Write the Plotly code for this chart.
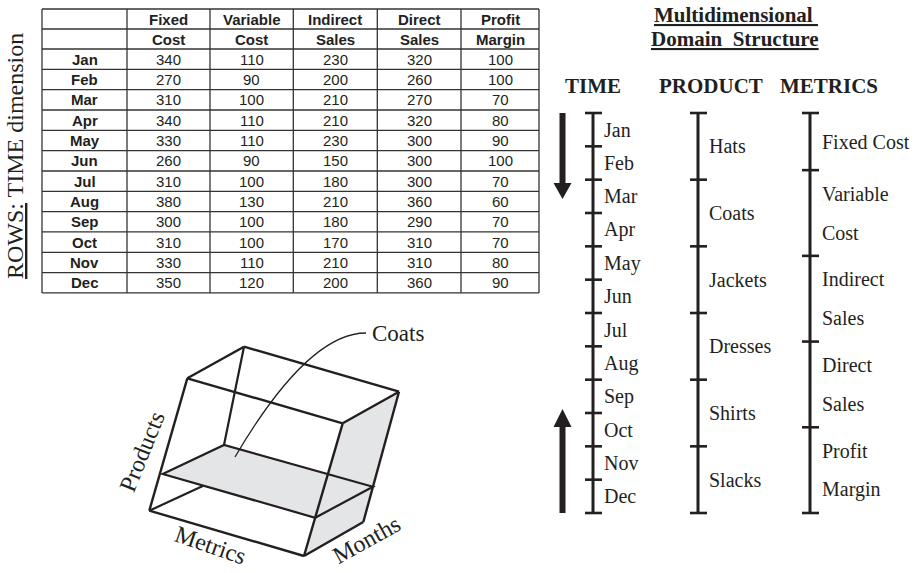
import plotly.graph_objects as go

# ---- data ----
months = ["Jan", "Feb", "Mar", "Apr", "May", "Jun",
          "Jul", "Aug", "Sep", "Oct", "Nov", "Dec"]
metrics = ["Fixed Cost", "Variable Cost", "Indirect Sales", "Direct Sales", "Profit Margin"]
fixed_cost = [340, 270, 310, 340, 330, 260, 310, 380, 300, 310, 330, 350]
variable_cost = [110, 90, 100, 110, 110, 90, 100, 130, 100, 100, 110, 120]
indirect_sales = [230, 200, 210, 210, 230, 150, 180, 210, 180, 170, 210, 200]
direct_sales = [320, 260, 270, 320, 300, 300, 300, 360, 290, 310, 310, 360]
profit_margin = [100, 100, 70, 80, 90, 100, 70, 60, 70, 70, 80, 90]
products = ["Hats", "Coats", "Jackets", "Dresses", "Shirts", "Slacks"]
metric_labels = [["Fixed Cost"], ["Variable", "Cost"], ["Indirect", "Sales"],
                 ["Direct", "Sales"], ["Profit", "Margin"]]
cube_axes = ["Products", "Metrics", "Months"]
highlight = "Coats"

# ---- styling ----
SERIF = "Liberation Serif"
SANS = "Liberation Sans"
INK = "#231f20"
GRAY = "#e4e5e6"
W, H = 917, 573

shapes = []
anns = []


def line(x0, y0, x1, y1, w=1.4, c=INK):
    shapes.append(dict(type="line", xref="x", yref="y", x0=x0, y0=y0, x1=x1, y1=y1,
                       line=dict(color=c, width=w)))


def path(d, fill=None, w=2.3, c=INK):
    shapes.append(dict(type="path", xref="x", yref="y", path=d,
                       fillcolor=fill if fill else "rgba(0,0,0,0)",
                       line=dict(color=c, width=w)))


def text(x, y, s, size, family=SERIF, xanchor="center", angle=0):
    anns.append(dict(x=x, y=y, xref="x", yref="y", text=s, showarrow=False,
                     xanchor=xanchor, yanchor="middle", textangle=angle,
                     font=dict(family=family, size=size, color=INK)))


# ---- table ----
columns = [fixed_cost, variable_cost, indirect_sales, direct_sales, profit_margin]
col_edges = [42, 127, 210, 293.3, 377.3, 461, 539]
head_h = 20
row_h = 20.33
top = 9
row_edges = [top, top + head_h, top + 2 * head_h] + \
    [top + 2 * head_h + (i + 1) * row_h for i in range(len(months))]
bottom = row_edges[-1]

for ye in row_edges:
    line(col_edges[0], ye, col_edges[-1], ye, w=1.3, c="#333")
for xe in col_edges:
    line(xe, top, xe, bottom, w=1.3, c="#333")

for j, m in enumerate(metrics):
    cx = (col_edges[j + 1] + col_edges[j + 2]) / 2
    first, second = m.split(" ", 1)
    text(cx, top + head_h / 2, "<b>" + first + "</b>", 15, SANS)
    text(cx, top + head_h * 1.5, "<b>" + second + "</b>", 15, SANS)

for i, mo in enumerate(months):
    cy = top + 2 * head_h + (i + 0.5) * row_h
    text((col_edges[0] + col_edges[1]) / 2, cy, "<b>" + mo + "</b>", 15, SANS)
    for j, col in enumerate(columns):
        cx = (col_edges[j + 1] + col_edges[j + 2]) / 2
        text(cx, cy, str(col[i]), 15, SANS)

text(15, 156, "<u>ROWS:</u> TIME dimension", 24, angle=-90)

# ---- domain structure ----
text(736, 15, "<b><u>Multidimensional </u></b>", 21)
text(735, 39, "<b><u>Domain  Structure</u></b>", 21)

ax_top, ax_bot = 113, 513
span = ax_bot - ax_top


def dim_axis(x, edges):
    line(x, ax_top, x, ax_bot, w=3)
    for e in edges:
        line(x - 8, e, x + 9, e, w=2.6)


# time
tx = 593
t_edges = [ax_top + i * span / len(months) for i in range(len(months) + 1)]
dim_axis(tx, t_edges)
text(tx, 86, "<b>TIME</b>", 21)
for i, mo in enumerate(months):
    text(tx + 9, (t_edges[i] + t_edges[i + 1]) / 2, mo, 20, xanchor="left")

# product
px_ = 698
p_edges = [ax_top + i * span / len(products) for i in range(len(products) + 1)]
dim_axis(px_, p_edges)
text(711, 86, "<b>PRODUCT</b>", 21)
for i, p in enumerate(products):
    text(px_ + 9, (p_edges[i] + p_edges[i + 1]) / 2, p, 20, xanchor="left")

# metrics (segment height follows the number of label lines)
mx = 810
weights = [len(lbl) + 1 for lbl in metric_labels]
unit = span / sum(weights)
m_edges = [ax_top]
for wgt in weights:
    m_edges.append(m_edges[-1] + wgt * unit)
dim_axis(mx, m_edges)
text(829, 86, "<b>METRICS</b>", 21)
for i, lbl in enumerate(metric_labels):
    mid = (m_edges[i] + m_edges[i + 1]) / 2
    n = len(lbl)
    for k, s in enumerate(lbl):
        text(mx + 10, mid + (k - (n - 1) / 2) * 39, s, 20, xanchor="left")

# direction arrows
path("M 559.5 113 L 565.5 113 L 565.5 183 L 571.5 183 L 562.5 199 L 553.5 183 L 559.5 183 Z",
     fill=INK, w=0)
path("M 559.5 513 L 565.5 513 L 565.5 427 L 571.5 427 L 562.5 409 L 553.5 427 L 559.5 427 Z",
     fill=INK, w=0)

# ---- cube ----
A, B, C, D = (244, 346.7), (187.3, 378.3), (399, 391.7), (342.7, 423.3)
E, F, G = (149.3, 510.7), (304, 556), (363.3, 522)
P1, P2, P3, P4 = (162.7, 474), (315.2, 517.7), (372.9, 486.7), (224, 445)


def poly(pts, close=True):
    d = "M " + " L ".join(f"{x} {y}" for x, y in pts)
    return d + (" Z" if close else "")


path(poly([D, C, G, F]), fill=GRAY, w=0)
line(*A, *P4, w=2.2)
line(*E, 203.3, 485.7, w=2.2)
path(poly([P1, P2, P3, P4]), fill=GRAY, w=2.2)
for p, q in [(A, B), (A, C), (B, D), (C, D), (B, E), (D, F), (C, G), (E, F), (F, G)]:
    line(*p, *q, w=2.4)

path("M 235 457 Q 308 333 366 333", w=1.3)
text(370, 333, highlight, 23, xanchor="left")
text(141.7, 451.7, cube_axes[0], 24, angle=-68)
text(210, 545, cube_axes[1], 24, angle=19)
text(366, 540, cube_axes[2], 24, angle=-29)

fig = go.Figure(go.Scatter(x=[], y=[], hoverinfo="skip"))
fig.update_layout(
    width=W, height=H,
    margin=dict(l=0, r=0, t=0, b=0),
    paper_bgcolor="white", plot_bgcolor="white",
    xaxis=dict(range=[0, W], visible=False, fixedrange=True),
    yaxis=dict(range=[H, 0], visible=False, fixedrange=True),
    shapes=shapes, annotations=anns, showlegend=False,
)
# drop the page's default 8px body margin so the figure fills the window
fig.write_html("out.html", config={"displayModeBar": False},
               post_script="document.body.style.margin='0';document.body.style.overflow='hidden';")
